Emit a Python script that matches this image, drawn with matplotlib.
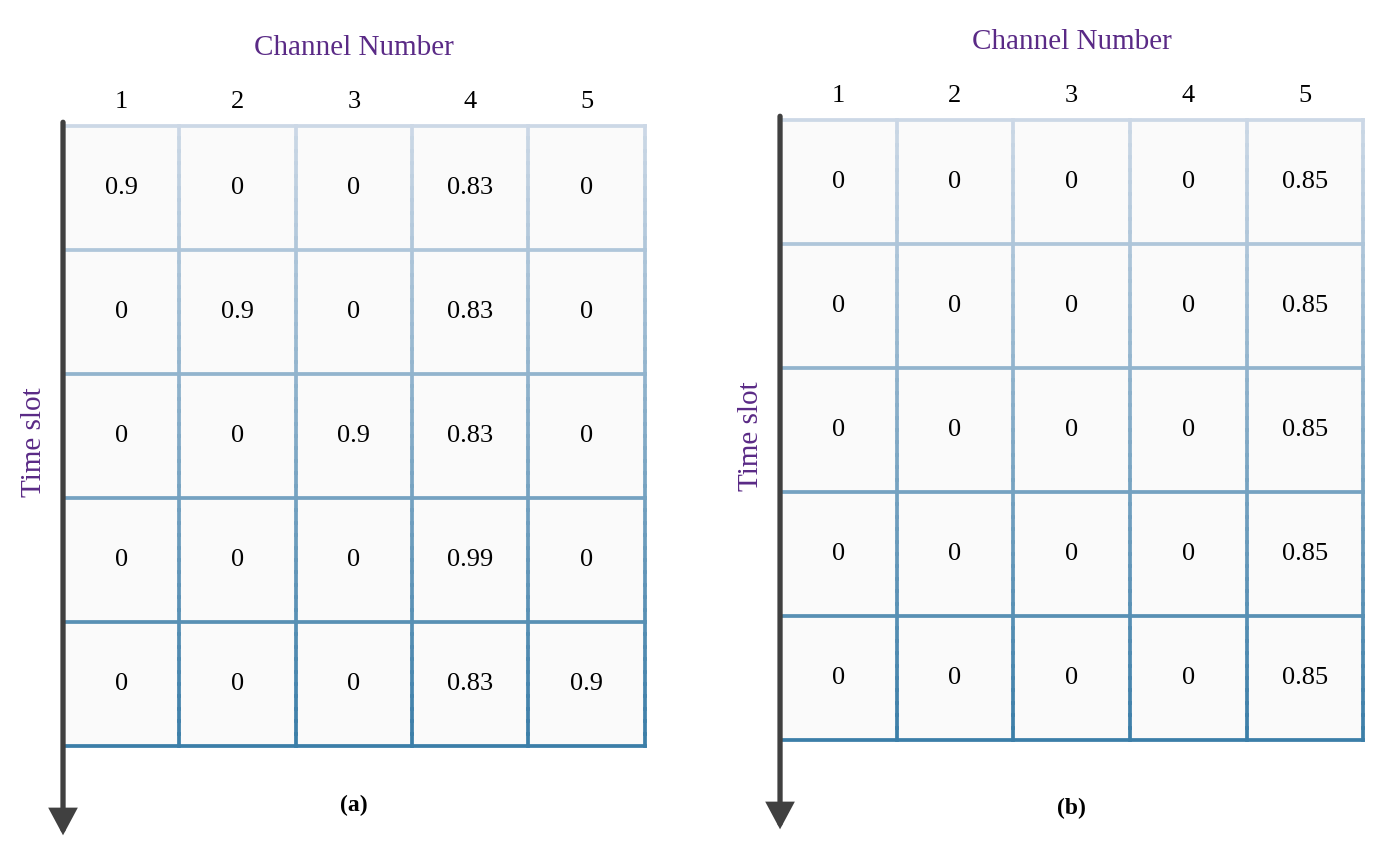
import numpy as np
import matplotlib.pyplot as plt
from matplotlib.colors import LinearSegmentedColormap

channels = ['1', '2', '3', '4', '5']
values_a = [['0.9', '0', '0', '0.83', '0'],
            ['0', '0.9', '0', '0.83', '0'],
            ['0', '0', '0.9', '0.83', '0'],
            ['0', '0', '0', '0.99', '0'],
            ['0', '0', '0', '0.83', '0.9']]
values_b = [['0', '0', '0', '0', '0.85']] * 5
panels = ['(a)', '(b)']

cmap = LinearSegmentedColormap.from_list('g', ['#ccd8e6', '#3b7ea8'])
purple = '#5a2a86'
serif = 'Liberation Serif'

fig = plt.figure(figsize=(13.85, 8.57), dpi=100)
axes = [fig.add_axes([0.0455, 0.1295, 0.420, 0.7235]),
        fig.add_axes([0.5632, 0.1365, 0.421, 0.7235])]
label_y = [5.48, 5.55]

for ax, vals, name, ly in zip(axes, [values_a, values_b], panels, label_y):
    ax.set_xlim(0, 5)
    ax.set_ylim(5, 0)
    ax.axis('off')
    n = len(vals)
    for r in range(n):
        ax.add_patch(plt.Rectangle((0, r), 5, 1, color='#fafafa', zorder=0, clip_on=False))
        for c in range(len(channels)):
            ax.text(c + 0.5, r + 0.5, vals[r][c], ha='center', va='center',
                    fontsize=19, family=serif)
    # gradient grid lines
    steps = 50
    ys = np.linspace(0, n, steps + 1)
    for c in range(len(channels) + 1):
        for i in range(steps):
            ax.plot([c, c], [ys[i], ys[i + 1]], color=cmap((ys[i] + ys[i + 1]) / 2 / n),
                    lw=2.7, clip_on=False, zorder=2, solid_capstyle='projecting')
    for r in range(n + 1):
        ax.plot([0, 5], [r, r], color=cmap(r / n), lw=2.7, clip_on=False, zorder=3)
    for c, lab in enumerate(channels):
        ax.text(c + 0.5, -0.19, lab, ha='center', va='center', fontsize=19, family=serif)
    ax.text(2.5, -0.63, 'Channel Number', ha='center', va='center', fontsize=21,
            family=serif, color=purple)
    ax.text(-0.25, 2.55, 'Time slot', ha='center', va='center', fontsize=21,
            family=serif, color=purple, rotation=90)
    ax.text(2.5, ly, name, ha='center', va='center', fontsize=17, family=serif,
            fontweight='bold')
    ax.annotate('', xy=(0, 5.72), xytext=(0, -0.03), annotation_clip=False,
                arrowprops=dict(arrowstyle='-|>,head_length=1.4,head_width=0.75',
                                lw=3.8, color='#404040', shrinkA=0, shrinkB=0,
                                joinstyle='miter'),
                zorder=5)

fig.savefig('out.png', dpi=100)
